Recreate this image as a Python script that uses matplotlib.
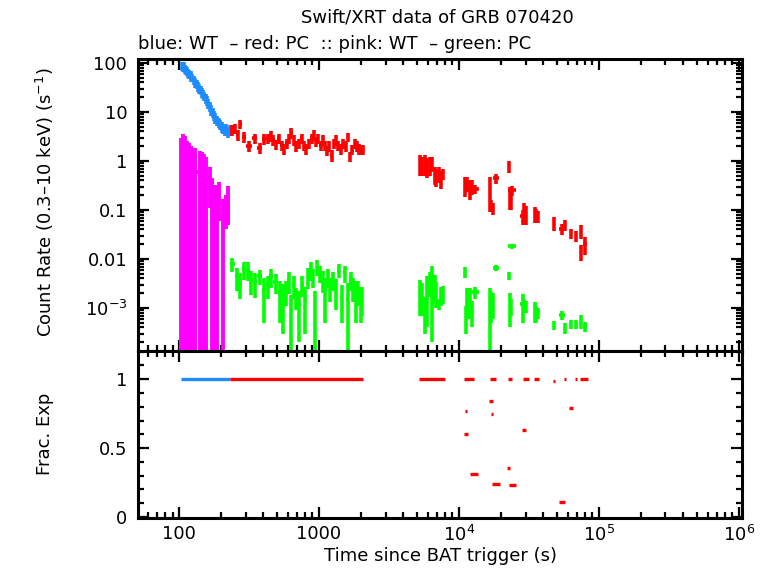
import numpy as np
import matplotlib.pyplot as plt
from matplotlib.ticker import FixedLocator, FixedFormatter, NullFormatter, MultipleLocator, LogLocator

plt.rcParams['font.family'] = ['DejaVu Sans']
plt.rcParams['mathtext.default'] = 'regular'

# ---- WT mode source rate (blue) ----
wt_t = [105, 107, 109, 111, 113, 115, 117, 119, 121, 123, 125, 128, 131, 134, 137, 140, 143,
        146, 149, 152, 155, 158, 162, 166, 170, 174, 178, 182, 187, 192, 197, 202, 207, 212,
        218, 224, 230]
wt_rate = [86, 82, 88, 75, 72, 68, 63, 60, 56, 52, 50, 44, 40, 37, 33, 30, 28, 25, 23, 21, 19,
           17, 15, 13, 11, 10, 8.6, 7.6, 6.8, 6.0, 5.5, 5.0, 4.6, 4.2, 4.5, 4.0, 4.3]
wt_err = [17, 17, 18, 15, 15, 14, 13, 12, 12, 11, 10, 9, 8.5, 8, 7, 6.5, 6, 5.5, 5, 4.6, 4.2,
          3.8, 3.4, 3.0, 2.6, 2.3, 2.0, 1.8, 1.6, 1.4, 1.3, 1.2, 1.1, 1.0, 1.1, 1.0, 1.0]

# ---- PC mode source rate (red) ----
pc1_t = [238, 251, 263, 273, 291, 316, 349, 379, 407, 430, 452, 472, 493, 517, 541, 563, 588,
         615, 637, 662, 692, 724, 752, 781, 816, 846, 887, 922, 952, 990, 1028, 1062, 1104,
         1147, 1185, 1232, 1274, 1318, 1373, 1428, 1488, 1552, 1618, 1680, 1736, 1804, 1875,
         1938, 2012, 2063]
pc1_rate = [4.3, 4.7, 3.4, 5.7, 3.1, 2.05, 2.9, 1.87, 2.8, 2.9, 3.25, 2.7, 2.2, 2.9, 2.1, 1.8,
            2.3, 2.9, 3.7, 2.7, 2.0, 2.3, 2.9, 2.1, 1.8, 2.3, 2.9, 3.4, 2.5, 2.9, 2.1, 2.7, 2.1,
            1.65, 2.0, 1.3, 2.3, 2.7, 2.1, 1.8, 2.3, 2.0, 3.1, 1.25, 1.7, 2.3, 2.0, 1.8, 1.7, 1.7]
pc1_err = [1.0, 1.1, 0.8, 1.2, 0.8, 0.5, 0.7, 0.5, 0.7, 0.7, 0.8, 0.7, 0.5, 0.7, 0.5, 0.45,
           0.55, 0.7, 0.9, 0.65, 0.5, 0.55, 0.7, 0.5, 0.45, 0.55, 0.7, 0.8, 0.6, 0.7, 0.5, 0.65,
           0.5, 0.4, 0.5, 0.35, 0.55, 0.65, 0.5, 0.45, 0.55, 0.5, 0.7, 0.3, 0.4, 0.55, 0.5, 0.45,
           0.4, 0.4]

pc2_t = [5265, 5504, 5715, 5976, 6208, 6448, 6707, 6930, 7195, 7474, 7725,
         11040, 11540, 11990, 12530, 13010,
         16650, 17110, 17580, 18580,
         22760, 23130, 23500, 24190,
         28810, 29290, 30000, 34900, 35900, 36900,
         47720, 55060, 57330,
         63100, 68400, 74300, 75200, 80300]
pc2_rate = [0.9, 0.85, 0.9, 0.8, 0.85, 0.9, 0.55, 0.5, 0.55, 0.45, 0.55,
            0.33, 0.35, 0.28, 0.3, 0.27,
            0.28, 0.125, 0.11, 0.44,
            0.78, 0.2, 0.17, 0.25,
            0.075, 0.1, 0.085, 0.085, 0.08, 0.075,
            0.055, 0.041, 0.05,
            0.033, 0.03, 0.037, 0.014, 0.02]
pc2_err = [0.4, 0.35, 0.4, 0.35, 0.35, 0.3, 0.22, 0.2, 0.2, 0.18, 0.15,
           0.15, 0.12, 0.12, 0.1, 0.06,
           0.19, 0.035, 0.03, 0.1,
           0.22, 0.1, 0.07, 0.06,
           0.025, 0.04, 0.035, 0.03, 0.025, 0.02,
           0.017, 0.01, 0.013,
           0.008, 0.008, 0.012, 0.005, 0.008]
pc2_dt = [70, 70, 70, 80, 80, 80, 90, 90, 90, 100, 100,
          150, 150, 160, 170, 900,
          220, 230, 230, 950,
          300, 300, 300, 1600,
          1400, 400, 400, 450, 450, 450,
          600, 2700, 700,
          800, 900, 900, 900, 2700]

# ---- WT background (pink) ----
wtb_t = [104.2, 107.7, 111.3, 115.0, 118.9, 122.8, 125.9, 131.2, 141.2, 146.0, 150.9, 155.9,
         166.5, 173.5, 180.7, 188.3, 194.7, 207.8, 216.6, 223.9]
wtb_rate = [1.0, 1.2, 1.1, 0.9, 0.8, 0.7, 0.6, 0.6, 0.55, 0.5, 0.45, 0.4,
            0.44, 0.15, 0.1, 0.12, 0.22, 0.07, 0.12, 0.18]
wtb_err = [1.9, 2.3, 2.2, 1.7, 1.5, 1.3, 1.2, 1.2, 1.05, 1.0, 0.95, 0.8,
           0.33, 0.3, 0.22, 0.2, 0.16, 0.1, 0.08, 0.13]

# ---- PC background (green) ----
pcb1_t = [241, 260, 272, 293, 312, 330, 349, 379, 404, 430, 452, 493, 527, 556, 580, 610, 632,
          660, 685, 724, 760, 800, 837, 875, 910, 940, 973, 1013, 1062, 1110, 1160, 1207, 1260,
          1318, 1394, 1459, 1530, 1618, 1690, 1760, 1838, 1910, 1992, 2050]
pcb1_rate = [.0079, .0044, .0033, .0063, .0060, .0038, .0034, .0044, .0023, .0030,
             .0044, .0034, .0020, .0017, .0023, .0037, .0008, .0030, .0017, .0012,
             .0031, .0015, .0044, .0060, .0044, .0010, .0070, .0053, .0038, .0023,
             .0044, .0027, .0038, .0024, .0060, .0017, .0053, .0015, .0038, .0027,
             .0020, .0023, .0015, .0017]
pcb1_err = [.0025, .0022, .0018, .0025, .0025, .0020, .0018, .0015, .0018, .0015,
            .0018, .0015, .0015, .0014, .0012, .0018, .0010, .0015, .0008, .0010,
            .0014, .0012, .0020, .0025, .0018, .0012, .0025, .0020, .0018, .0018,
            .0018, .0014, .0016, .0015, .0020, .0012, .0020, .0017, .0016, .0014,
            .0015, .0012, .0010, .0010]

pcb2_t = [5265, 5504, 5715, 5976, 6208, 6448, 6707, 6930, 7195, 7474, 7725,
          11040, 11300, 11540, 11990, 12530, 13010,
          16650, 17110, 17580, 18580,
          22760, 23130, 23500, 24190,
          28810, 29290, 30000, 34900, 35900, 36900,
          47720, 55060, 57330,
          63100, 68400, 74300, 80300]
pcb2_rate = [0.0022, 0.002, 0.001, 0.0024, 0.0036, 0.0037, 0.003, 0.0022, 0.0012, 0.0019, 0.002,
             0.0055, 0.0007, 0.0016, 0.0016, 0.0009, 0.0021,
             0.0012, 0.0013, 0.0013, 0.0066,
             0.0045, 0.0012, 0.0011, 0.018,
             0.0012, 0.0012, 0.0011, 0.0009, 0.0008, 0.0008,
             0.00045, 0.00072, 0.0004,
             0.00048, 0.00048, 0.00055, 0.00042]
pcb2_err = [0.0015, 0.0013, 0.0007, 0.002, 0.0019, 0.0035, 0.0018, 0.0012, 0.0003, 0.0008, 0.0008,
            0.0014, 0.0004, 0.001, 0.001, 0.0005, 0.0006,
            0.0014, 0.0008, 0.0007, 0.001,
            0.0008, 0.0008, 0.0004, 0.002,
            0.0007, 0.0003, 0.0003, 0.0004, 0.0003, 0.0002,
            0.0001, 0.00015, 0.0001,
            0.0001, 0.0001, 0.00018, 0.0001]
pcb2_dt = [70, 70, 70, 80, 80, 80, 90, 90, 90, 100, 100,
           150, 150, 150, 160, 170, 900,
           220, 230, 230, 950,
           300, 300, 300, 1600,
           1400, 400, 400, 450, 450, 450,
           600, 2700, 700,
           800, 900, 900, 2700]

# ---- fractional exposure ----
fe_wt_t0, fe_wt_t1, fe_wt_val = [103.4], [231], [1.0]
fe_pc_t0 = [231, 5202, 10910, 16650, 22560, 28810, 34350, 47020, 56400, 67850, 73220,
            11040, 10860, 12120, 16380, 16930, 17400, 21930, 22760, 28330, 52000, 61000]
fe_pc_t1 = [2063, 7906, 12830, 18320, 23860, 31620, 37430, 48830, 58620, 70090, 83770,
            11540, 11590, 13780, 17490, 17690, 19610, 23410, 25510, 30260, 57830, 65150]
fe_pc_val = [1.0, 1.0, 1.0, 1.0, 1.0, 1.0, 1.0, 0.99, 1.0, 1.0, 1.0,
             0.77, 0.60, 0.315, 0.843, 0.75, 0.242, 0.358, 0.235, 0.633, 0.11, 0.79]

BLUE = '#1e8cff'
RED = '#ff0000'
PINK = '#ff00ff'
GREEN = '#00ff00'
FS = 13


def bin_halfwidths(t):
    # contiguous bins: edges at geometric midpoints between neighbours
    t = np.asarray(t, float)
    mid = np.sqrt(t[1:] * t[:-1])
    lo = np.concatenate([[t[0] ** 2 / mid[0]], mid])
    hi = np.concatenate([mid, [t[-1] ** 2 / mid[-1]]])
    return np.vstack([t - lo, hi - t])


def ebar(ax, t, y, yerr, xerr, color, lw=2.6):
    ax.errorbar(t, y, yerr=yerr, xerr=xerr, fmt='none', ecolor=color,
                elinewidth=lw, capsize=0)


fig = plt.figure(figsize=(7.68, 5.68), dpi=100)
ax1 = fig.add_axes([0.1803, 0.382, 0.7858, 0.514])
ax2 = fig.add_axes([0.1803, 0.088, 0.7858, 0.294])

ax1.set_xscale('log')
ax1.set_yscale('log', nonpositive='clip')

ebar(ax1, wtb_t, wtb_rate, wtb_err, bin_halfwidths(wtb_t), PINK, 2.8)
ebar(ax1, pcb1_t, pcb1_rate, pcb1_err, bin_halfwidths(pcb1_t), GREEN)
ebar(ax1, pcb2_t, pcb2_rate, pcb2_err, pcb2_dt, GREEN)
ebar(ax1, wt_t, wt_rate, wt_err, bin_halfwidths(wt_t), BLUE)
ebar(ax1, pc1_t, pc1_rate, pc1_err, bin_halfwidths(pc1_t), RED)
ebar(ax1, pc2_t, pc2_rate, pc2_err, pc2_dt, RED)

ax2.set_xscale('log')
ax2.hlines(fe_wt_val, fe_wt_t0, fe_wt_t1, color=BLUE, lw=2.4)
ax2.hlines(fe_pc_val, fe_pc_t0, fe_pc_t1, color=RED, lw=2.4)

for ax in (ax1, ax2):
    ax.set_xlim(51.4, 1.056e6)
    ax.xaxis.set_major_locator(FixedLocator([1e2, 1e3, 1e4, 1e5, 1e6]))
    ax.xaxis.set_minor_locator(LogLocator(base=10, subs=np.arange(2, 10), numticks=20))
    ax.xaxis.set_minor_formatter(NullFormatter())
    ax.tick_params(which='both', direction='in', top=True, right=True, width=1.6,
                   labelsize=FS)
    ax.tick_params(axis='y', pad=8)
    ax.tick_params(axis='x', pad=5)
    ax.tick_params(which='major', length=8)
    ax.tick_params(which='minor', length=4.5)
    for s in ax.spines.values():
        s.set_linewidth(2.2)

ax1.set_ylim(1.32e-4, 120)
ax1.yaxis.set_major_locator(FixedLocator([1e-3, 1e-2, 1e-1, 1, 10, 100]))
ax1.yaxis.set_major_formatter(FixedFormatter(['10$^{-3}$', '0.01', '0.1', '1', '10', '100']))
ax1.yaxis.set_minor_locator(LogLocator(base=10, subs=np.arange(2, 10), numticks=20))
ax1.yaxis.set_minor_formatter(NullFormatter())
ax1.xaxis.set_major_formatter(NullFormatter())

ax2.set_ylim(-0.008, 1.205)
ax2.yaxis.set_major_locator(FixedLocator([0, 0.5, 1]))
ax2.yaxis.set_major_formatter(FixedFormatter(['0', '0.5', '1']))
ax2.yaxis.set_minor_locator(MultipleLocator(0.1))
ax2.xaxis.set_major_formatter(FixedFormatter(['100', '1000', '10$^4$', '10$^5$', '10$^6$']))

fig.text(45 / 768, 1 - 202 / 568, 'Count Rate (0.3\u201310 keV) (s$^{-1}$)', rotation=90,
         ha='center', va='center', fontsize=FS)
fig.text(45 / 768, 1 - 434 / 568, 'Frac. Exp', rotation=90, ha='center', va='center',
         fontsize=FS)
fig.text(440 / 768, 1 - 556 / 568, 'Time since BAT trigger (s)', ha='center', va='center',
         fontsize=FS)
fig.text(437 / 768, 1 - 18 / 568, 'Swift/XRT data of GRB 070420', ha='center', va='center',
         fontsize=FS)
fig.text(138 / 768, 1 - 44 / 568, 'blue: WT  \u2013 red: PC  :: pink: WT  \u2013 green: PC',
         ha='left', va='center', fontsize=FS)

fig.savefig('out.png', dpi=100)
